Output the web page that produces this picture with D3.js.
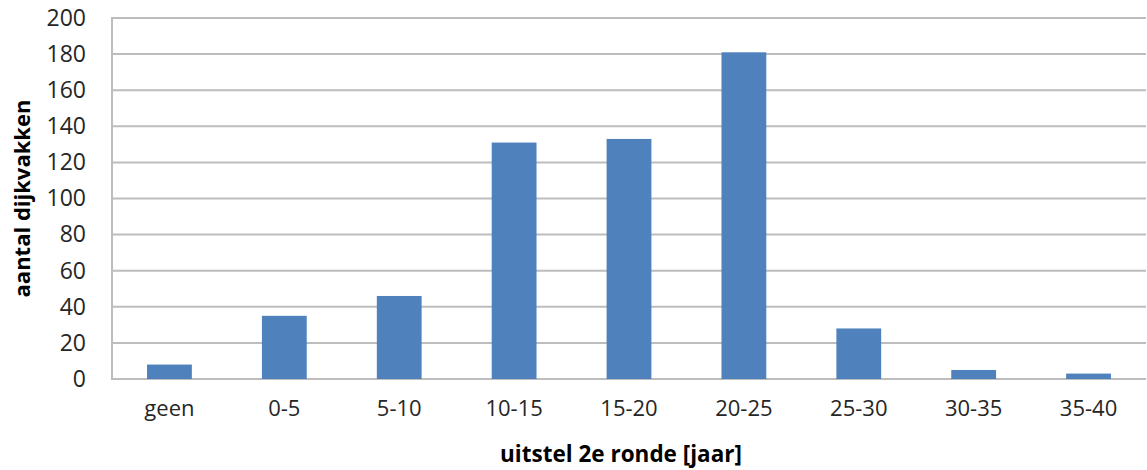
<!DOCTYPE html>
<html>
<head>
<meta charset="utf-8">
<script src="https://cdn.jsdelivr.net/npm/d3@7"></script>
<style>
  html, body { margin: 0; padding: 0; background: #fff; }
  svg { display: block; }
</style>
</head>
<body>
<svg id="chart" width="1147" height="470"></svg>
<script>
const categories = ["geen", "0-5", "5-10", "10-15", "15-20", "20-25", "25-30", "30-35", "35-40"];
const values = [8, 35, 46, 131, 133, 181, 28, 5, 3];
const yTicks = [0, 20, 40, 60, 80, 100, 120, 140, 160, 180, 200];
const xTitle = "uitstel 2e ronde [jaar]";
const yTitle = "aantal dijkvakken";

const svg = d3.select("#chart");
const margin = { left: 112, right: 1, top: 18, bottom: 91 };
const W = 1147, H = 470;
const x0 = margin.left, x1 = W - margin.right;
const y0 = H - margin.bottom, y1 = margin.top;

const x = d3.scaleBand().domain(categories).range([x0, x1]).paddingInner(0.61).paddingOuter(0.305);
const y = d3.scaleLinear().domain([0, 200]).range([y0, y1]);

const font = "'Open Sans', 'Liberation Sans', sans-serif";
const gridColor = "#bdbdbd";

// gridlines
svg.append("g").selectAll("line").data(yTicks).join("line")
  .attr("x1", x0).attr("x2", x1)
  .attr("y1", d => y(d)).attr("y2", d => y(d))
  .attr("stroke", gridColor).attr("stroke-width", 2);

// left axis line
svg.append("line").attr("x1", x0).attr("x2", x0).attr("y1", y1 - 1).attr("y2", y0 + 1)
  .attr("stroke", gridColor).attr("stroke-width", 2);

// bars
svg.append("g").selectAll("rect").data(values).join("rect")
  .attr("x", (d, i) => x(categories[i]))
  .attr("width", x.bandwidth())
  .attr("y", d => y(d))
  .attr("height", d => y(0) - y(d))
  .attr("fill", "#4f81bd");

// y axis labels
const yAxis = d3.axisLeft(y).tickValues(yTicks).tickSize(0).tickPadding(26);
const gy = svg.append("g").attr("transform", `translate(${x0},0)`).call(yAxis);
gy.select(".domain").remove();
gy.selectAll("text").attr("font-family", font).attr("font-size", 23).attr("fill", "#262626");

// x axis labels
const xAxis = d3.axisBottom(x).tickSize(0).tickPadding(21);
const gx = svg.append("g").attr("transform", `translate(0,${y0})`).call(xAxis);
gx.select(".domain").remove();
gx.selectAll("text").attr("font-family", font).attr("font-size", 22).attr("fill", "#262626");

// axis titles
svg.append("text").attr("x", (x0 + x1) / 2 - 8).attr("y", 462)
  .attr("text-anchor", "middle").attr("font-family", font).attr("font-weight", "bold")
  .attr("font-size", 22.5).attr("fill", "#000").text(xTitle);

svg.append("text").attr("transform", `translate(30,${(y0 + y1) / 2}) rotate(-90)`)
  .attr("text-anchor", "middle").attr("font-family", font).attr("font-weight", "bold")
  .attr("font-size", 22).attr("fill", "#000").text(yTitle);
</script>
</body>
</html>
